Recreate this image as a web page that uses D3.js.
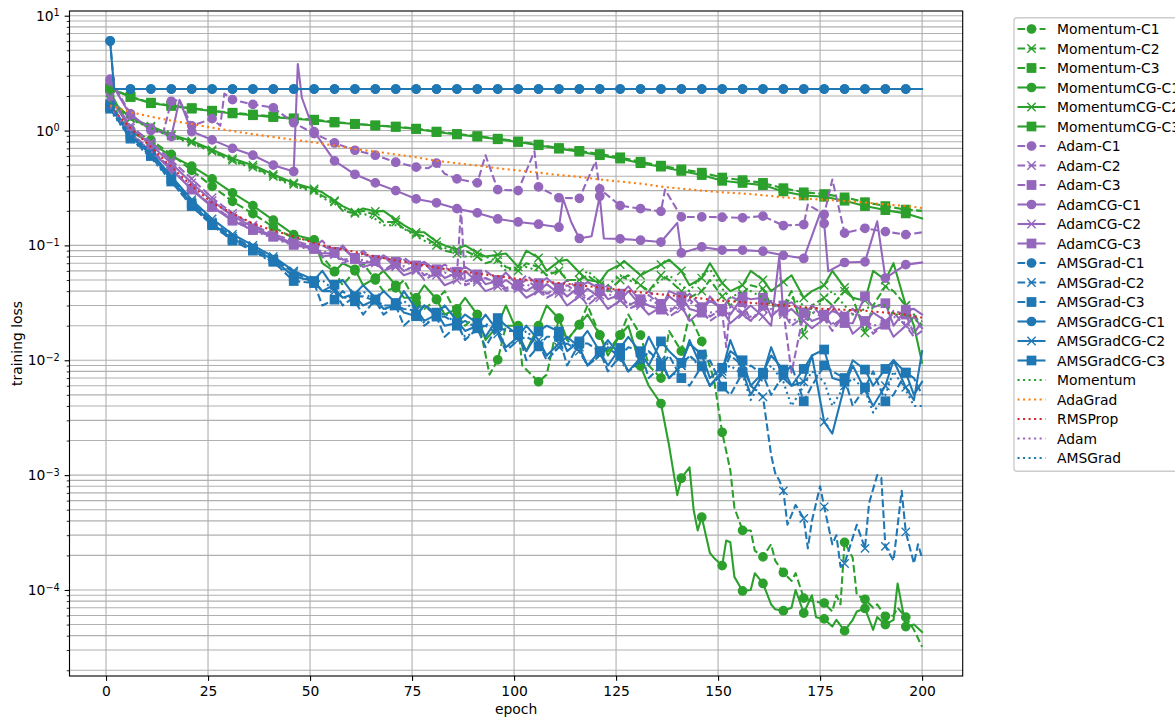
<!DOCTYPE html>
<html>
<head>
<meta charset="utf-8">
<script src="https://cdn.jsdelivr.net/npm/d3@7"></script>
<style>
  body { margin: 0; background: #fff; }
  svg { font-family: "DejaVu Sans", sans-serif; }
</style>
</head>
<body>
<svg id="chart" width="1175" height="717"></svg>
<script>
// Epochs where markers sit (every 5th epoch) plus the final epoch
const markEpochs = [1,6,11,16,21,26,31,36,41,46,51,56,61,66,71,76,81,86,91,96,101,106,111,116,121,126,131,136,141,146,151,156,161,166,171,176,181,186,191,196,200];
const xTicks = [0,25,50,75,100,125,150,175,200];
const yMajorTicks = [1e-4,1e-3,1e-2,1e-1,1,10];

// ---- Momentum family ----
const momentumC1 = [2.3,1.02,0.83,0.62,0.45,0.327,0.242,0.189,0.145,0.115,0.11,0.0594,0.06,0.05,0.0427,0.0315,0.0337,0.025,0.025,0.0101,0.02,0.0065,0.0233,0.0204,0.0166,0.0166,0.0166,0.007,0.012,0.0146,0.00236,0.00033,0.000194,0.000142,0.000085,0.000077,0.00026,0.000083,0.000059,0.000058,0.000032];
const momentumC1Extra = [[3,1.3],[53,0.08],[58,0.045],[63,0.07],[68,0.04],[73,0.05],[78,0.028],[83,0.04],[88,0.02],[94,0.0075],[98,0.02],[102,0.009],[108,0.0075],[113,0.015],[118,0.03],[123,0.012],[128,0.025],[133,0.009],[138,0.018],[143,0.025],[149,0.0068],[153,0.0011],[154,0.00052],[158,0.00033],[159,0.00022],[163,0.00025],[164,0.00018],[168,0.00012],[169,0.00014],[173,0.00008],[178,0.000065],[179,0.00009],[180,0.000075],[183,0.00019],[184,0.00009],[188,0.00007],[189,0.000075],[193,0.00006],[194,0.00007],[198,0.000045]];

const momentumC2 = [1.85,1.27,1.07,0.9,0.79,0.66,0.55,0.48,0.4,0.34,0.3,0.24,0.19,0.185,0.16,0.125,0.1,0.085,0.08,0.075,0.06,0.065,0.06,0.05,0.045,0.05,0.045,0.055,0.04,0.04,0.036,0.038,0.042,0.03,0.0166,0.035,0.04,0.0173,0.044,0.03,0.02];
const momentumC2Extra = [[53,0.27],[58,0.2],[63,0.2],[68,0.16],[73,0.14],[78,0.12],[83,0.09],[88,0.09],[93,0.07],[98,0.065],[103,0.07],[108,0.055],[113,0.05],[118,0.055],[123,0.04],[128,0.055],[133,0.04],[138,0.05],[143,0.035],[148,0.05],[153,0.03],[158,0.045],[163,0.03],[168,0.04],[173,0.03],[178,0.03],[183,0.035],[188,0.03],[193,0.04],[198,0.025]];

const momentumC3 = [2.36,1.97,1.75,1.65,1.57,1.49,1.43,1.38,1.33,1.28,1.245,1.19,1.145,1.11,1.085,1.04,0.98,0.935,0.895,0.85,0.805,0.755,0.705,0.665,0.625,0.585,0.535,0.495,0.46,0.43,0.39,0.37,0.35,0.315,0.29,0.28,0.262,0.238,0.22,0.205,0.2];

const momentumCGC1 = [2.2,0.98,0.78,0.6,0.49,0.38,0.287,0.222,0.166,0.124,0.112,0.059,0.062,0.052,0.045,0.035,0.034,0.028,0.025,0.02,0.017,0.02,0.023,0.0204,0.0166,0.0166,0.0089,0.0042,0.00094,0.00043,0.000163,0.000098,0.000114,0.000066,0.000063,0.000056,0.000044,0.000069,0.00005,0.000048,0.000043];
const momentumCGC1Extra = [[53,0.07],[58,0.07],[63,0.045],[68,0.06],[73,0.035],[78,0.045],[83,0.025],[88,0.035],[93,0.015],[98,0.03],[103,0.012],[108,0.03],[113,0.015],[118,0.025],[123,0.011],[128,0.02],[133,0.006],[138,0.0018],[140,0.00067],[143,0.00117],[144,0.0005],[145,0.00033],[148,0.00021],[149,0.00019],[152,0.00027],[153,0.00026],[154,0.00013],[158,0.0001],[159,0.00014],[163,0.000075],[164,0.000068],[168,0.00007],[169,0.0001],[173,0.00009],[174,0.000058],[178,0.000048],[179,0.000055],[183,0.000055],[184,0.000065],[188,0.000045],[189,0.000058],[193,0.000055],[194,0.000114],[198,0.00005]];

const momentumCGC2 = [1.86,1.29,1.09,0.92,0.81,0.68,0.57,0.5,0.415,0.35,0.31,0.245,0.195,0.198,0.168,0.13,0.108,0.092,0.086,0.083,0.065,0.078,0.073,0.058,0.048,0.068,0.055,0.068,0.06,0.052,0.047,0.045,0.05,0.048,0.035,0.045,0.043,0.033,0.05,0.03,0.0095];
const momentumCGC2Extra = [[53,0.29],[58,0.22],[63,0.21],[68,0.2],[73,0.15],[78,0.13],[83,0.1],[88,0.1],[93,0.08],[98,0.085],[103,0.09],[108,0.06],[113,0.075],[118,0.05],[123,0.06],[127,0.073],[133,0.06],[138,0.075],[143,0.045],[148,0.07],[153,0.04],[158,0.06],[163,0.04],[168,0.055],[173,0.04],[178,0.06],[183,0.035],[188,0.06],[193,0.07],[198,0.02]];

const momentumCGC3 = [2.34,1.96,1.73,1.64,1.55,1.48,1.41,1.36,1.31,1.265,1.23,1.175,1.14,1.105,1.075,1.03,0.97,0.925,0.885,0.84,0.795,0.745,0.695,0.655,0.61,0.57,0.52,0.485,0.445,0.41,0.365,0.35,0.335,0.295,0.272,0.265,0.245,0.22,0.203,0.19,0.172];

// ---- Adam family ----
const adamC1 = [2.8,1.4,1.0,1.8,1.1,1.27,1.86,1.69,1.58,1.17,0.94,0.78,0.674,0.61,0.53,0.48,0.52,0.38,0.35,0.306,0.3,0.323,0.26,0.257,0.31,0.222,0.209,0.198,0.177,0.177,0.176,0.174,0.18,0.149,0.152,0.186,0.128,0.141,0.132,0.124,0.13];
const adamC1Extra = [[14,0.95],[18,1.85],[28,1.1],[29,2.1],[79,0.47],[83,0.42],[93,0.61],[105,0.66],[120,0.54],[137,0.306],[172,0.227],[178,0.375]];

const adamC2 = [1.99,1.1,0.79,0.55,0.38,0.26,0.19,0.15,0.125,0.11,0.098,0.085,0.078,0.072,0.066,0.062,0.058,0.055,0.05,0.047,0.045,0.042,0.04,0.038,0.037,0.034,0.031,0.03,0.028,0.027,0.026,0.025,0.028,0.026,0.024,0.023,0.025,0.022,0.021,0.02,0.018];
const adamC2Extra = [[53,0.11],[58,0.07],[63,0.09],[68,0.06],[73,0.075],[78,0.05],[83,0.065],[87,0.21],[88,0.045],[93,0.052],[98,0.04],[103,0.05],[108,0.035],[113,0.045],[118,0.03],[123,0.042],[128,0.028],[133,0.037],[138,0.024],[143,0.034],[148,0.022],[152,0.013],[153,0.03],[158,0.022],[163,0.032],[168,0.02],[173,0.03],[178,0.018],[183,0.028],[188,0.017],[193,0.026],[198,0.016]];

const adamC3 = [1.7,0.95,0.68,0.47,0.31,0.22,0.17,0.14,0.12,0.104,0.095,0.088,0.078,0.075,0.072,0.066,0.062,0.059,0.054,0.05,0.046,0.045,0.043,0.041,0.04,0.038,0.034,0.031,0.033,0.029,0.028,0.032,0.03,0.027,0.026,0.025,0.024,0.022,0.0204,0.025,0.022];
const adamC3Extra = [[53,0.1],[58,0.075],[63,0.085],[68,0.06],[73,0.078],[78,0.055],[83,0.068],[88,0.048],[93,0.06],[98,0.042],[103,0.055],[108,0.038],[113,0.05],[118,0.034],[123,0.045],[128,0.03],[133,0.04],[138,0.026],[143,0.038],[148,0.024],[153,0.036],[158,0.022],[163,0.033],[168,0.0078],[173,0.03],[178,0.02],[183,0.028],[188,0.018],[193,0.027],[198,0.017]];

const adamCGC1 = [2.7,1.35,1.05,0.886,0.98,0.83,0.7,0.61,0.5,0.44,0.98,0.545,0.416,0.35,0.3,0.254,0.235,0.209,0.192,0.17,0.16,0.153,0.144,0.115,0.268,0.114,0.111,0.107,0.086,0.097,0.091,0.091,0.089,0.082,0.077,0.155,0.071,0.072,0.052,0.068,0.071];
const adamCGC1Extra = [[18,1.85],[47,3.8],[48,1.93],[112,0.256],[114,0.16],[119,0.12],[122,0.115],[140,0.157],[175,0.19],[177,0.0595],[189,0.162]];

const adamCGC2 = [1.9,1.05,0.75,0.52,0.35,0.245,0.18,0.145,0.12,0.105,0.095,0.083,0.075,0.07,0.065,0.06,0.055,0.05,0.048,0.044,0.042,0.04,0.038,0.036,0.035,0.033,0.03,0.029,0.03,0.027,0.028,0.026,0.024,0.025,0.022,0.023,0.024,0.021,0.022,0.02,0.019];
const adamCGC2Extra = [[53,0.08],[58,0.1],[63,0.065],[68,0.08],[73,0.055],[78,0.07],[83,0.045],[88,0.06],[93,0.04],[98,0.05],[103,0.035],[108,0.046],[113,0.03],[118,0.042],[123,0.028],[128,0.04],[133,0.025],[138,0.036],[143,0.022],[148,0.033],[153,0.021],[158,0.03],[163,0.02],[165,0.08],[168,0.028],[173,0.019],[178,0.027],[183,0.017],[188,0.026],[193,0.016],[198,0.024]];

const adamCGC3 = [1.65,0.92,0.66,0.457,0.306,0.216,0.164,0.136,0.119,0.101,0.093,0.086,0.076,0.073,0.07,0.067,0.0605,0.058,0.056,0.049,0.0445,0.047,0.042,0.0436,0.042,0.0372,0.0326,0.0276,0.036,0.026,0.0267,0.0357,0.035,0.03,0.026,0.0242,0.0211,0.036,0.0314,0.0276,0.025];
const adamCGC3Extra = [[53,0.085],[58,0.095],[63,0.07],[68,0.082],[73,0.06],[78,0.072],[83,0.052],[88,0.065],[93,0.046],[98,0.058],[103,0.04],[108,0.052],[113,0.036],[118,0.048],[123,0.034],[128,0.044],[133,0.03],[138,0.04],[143,0.028],[148,0.036],[153,0.025],[158,0.034],[163,0.024],[168,0.032],[173,0.022],[178,0.03],[183,0.021],[188,0.029],[193,0.02],[198,0.028]];

// ---- AMSGrad family ----
const amsgradC1 = [6.05,2.3,2.3,2.3,2.3,2.3,2.3,2.3,2.3,2.3,2.3,2.3,2.3,2.3,2.3,2.3,2.3,2.3,2.3,2.3,2.3,2.3,2.3,2.3,2.3,2.3,2.3,2.3,2.3,2.3,2.3,2.3,2.3,2.3,2.3,2.3,2.3,2.3,2.3,2.3,2.3];
const amsgradC1Extra = [[2,2.3]];

const amsgradC2 = [1.65,0.9,0.63,0.39,0.24,0.16,0.12,0.095,0.077,0.058,0.048,0.04,0.036,0.033,0.03,0.027,0.024,0.021,0.019,0.017,0.015,0.014,0.013,0.012,0.011,0.0105,0.01,0.0095,0.009,0.0088,0.0075,0.009,0.0048,0.00073,0.00042,0.00053,0.00017,0.00023,0.00024,0.00032,0.00019];
const amsgradC2Extra = [[53,0.04],[58,0.03],[63,0.036],[68,0.025],[73,0.028],[78,0.02],[83,0.024],[88,0.015],[93,0.02],[98,0.012],[103,0.016],[108,0.01],[113,0.014],[118,0.009],[123,0.013],[128,0.008],[133,0.012],[138,0.007],[143,0.011],[148,0.006],[153,0.011],[158,0.006],[163,0.0015],[164,0.00104],[165,0.0009],[167,0.00037],[169,0.00055],[172,0.00023],[173,0.0004],[175,0.0008],[178,0.00025],[179,0.0003],[180,0.00016],[184,0.00037],[187,0.00057],[189,0.001],[190,0.00095],[193,0.00018],[195,0.00073],[198,0.00017],[199,0.00025]];

const amsgradC3 = [1.55,0.85,0.6,0.36,0.22,0.15,0.11,0.09,0.072,0.049,0.047,0.0337,0.0326,0.0337,0.03,0.025,0.024,0.02,0.019,0.02,0.018,0.0132,0.016,0.014,0.012,0.011,0.012,0.0089,0.007,0.0089,0.0059,0.0078,0.0075,0.0075,0.0044,0.009,0.007,0.0058,0.0044,0.0078,0.005];
const amsgradC3Extra = [[53,0.03],[58,0.04],[63,0.025],[68,0.03],[73,0.02],[78,0.03],[83,0.016],[88,0.022],[93,0.013],[98,0.018],[103,0.01],[108,0.016],[113,0.009],[118,0.014],[123,0.008],[128,0.013],[133,0.007],[138,0.011],[143,0.006],[148,0.01],[153,0.005],[158,0.009],[163,0.005],[168,0.009],[173,0.006],[178,0.008],[183,0.004],[188,0.008],[193,0.005],[198,0.007]];

const amsgradCGC1 = [6.0,2.3,2.3,2.3,2.3,2.3,2.3,2.3,2.3,2.3,2.3,2.3,2.3,2.3,2.3,2.3,2.3,2.3,2.3,2.3,2.3,2.3,2.3,2.3,2.3,2.3,2.3,2.3,2.3,2.3,2.3,2.3,2.3,2.3,2.3,2.3,2.3,2.3,2.3,2.3,2.3];
const amsgradCGC1Extra = [[2,2.3]];

const amsgradCGC2 = [1.7,0.92,0.65,0.4,0.25,0.17,0.125,0.1,0.08,0.06,0.05,0.042,0.038,0.035,0.03,0.028,0.025,0.022,0.02,0.018,0.016,0.015,0.014,0.013,0.012,0.011,0.0105,0.01,0.009,0.0085,0.008,0.008,0.0075,0.007,0.0065,0.0029,0.006,0.0055,0.006,0.0058,0.012];
const amsgradCGC2Extra = [[53,0.06],[58,0.035],[63,0.045],[68,0.028],[73,0.04],[78,0.022],[83,0.03],[88,0.018],[93,0.025],[98,0.013],[103,0.02],[108,0.011],[113,0.016],[118,0.009],[123,0.015],[128,0.008],[133,0.016],[138,0.007],[143,0.015],[148,0.006],[153,0.015],[158,0.005],[163,0.013],[168,0.006],[173,0.011],[178,0.0023],[183,0.009],[188,0.004],[193,0.01],[198,0.0045]];

const amsgradCGC3 = [1.6,0.89,0.618,0.375,0.231,0.155,0.114,0.094,0.075,0.0537,0.049,0.0455,0.036,0.0337,0.0315,0.0242,0.026,0.0211,0.0211,0.0233,0.0166,0.0178,0.0178,0.0146,0.0119,0.0128,0.0117,0.0146,0.0095,0.0112,0.0086,0.01,0.0078,0.0083,0.0084,0.0124,0.0065,0.0083,0.0084,0.0078,0.0065];
const amsgradCGC3Extra = [[53,0.04],[58,0.05],[63,0.03],[68,0.04],[73,0.026],[78,0.03],[83,0.02],[88,0.025],[93,0.016],[98,0.02],[103,0.012],[108,0.02],[113,0.012],[118,0.018],[123,0.009],[128,0.016],[133,0.009],[138,0.012],[143,0.014],[148,0.007],[153,0.012],[158,0.006],[163,0.011],[168,0.006],[173,0.011],[178,0.007],[183,0.01],[188,0.006],[193,0.01],[198,0.005]];

// ---- Baseline optimizers ----
const momentumBase = [1.8,1.25,1.05,0.88,0.77,0.65,0.54,0.47,0.39,0.33,0.29,0.23,0.185,0.17,0.15,0.12,0.1,0.088,0.08,0.072,0.065,0.06,0.062,0.05,0.048,0.055,0.045,0.05,0.045,0.055,0.042,0.04,0.035,0.03,0.03,0.035,0.03,0.028,0.03,0.025,0.022];
const momentumBaseExtra = [[53,0.26],[58,0.21],[63,0.19],[68,0.15],[73,0.14],[78,0.11],[83,0.095],[88,0.08],[93,0.08],[98,0.06],[103,0.065],[108,0.055],[113,0.05],[118,0.06],[123,0.045],[128,0.05],[133,0.04],[138,0.055],[143,0.04],[148,0.062],[153,0.035],[158,0.04],[163,0.03],[168,0.035],[173,0.025],[178,0.04],[183,0.025],[188,0.03],[193,0.025],[198,0.022]];

const adagradBase = [1.65,1.45,1.32,1.22,1.14,1.06,0.99,0.93,0.88,0.83,0.79,0.74,0.69,0.655,0.62,0.585,0.545,0.52,0.495,0.47,0.45,0.43,0.41,0.395,0.375,0.36,0.345,0.325,0.312,0.3,0.29,0.283,0.274,0.262,0.255,0.25,0.244,0.236,0.228,0.22,0.212];

const rmspropBase = [1.6,1.05,0.72,0.48,0.33,0.235,0.19,0.155,0.135,0.12,0.105,0.095,0.088,0.08,0.074,0.069,0.064,0.06,0.057,0.054,0.051,0.049,0.047,0.045,0.043,0.041,0.039,0.0375,0.036,0.0345,0.033,0.032,0.031,0.03,0.029,0.028,0.0275,0.027,0.026,0.025,0.0235];

const adamBase = [1.6,0.95,0.66,0.46,0.31,0.22,0.165,0.135,0.115,0.1,0.09,0.08,0.073,0.068,0.063,0.058,0.055,0.052,0.049,0.046,0.043,0.041,0.039,0.037,0.035,0.033,0.031,0.03,0.029,0.028,0.027,0.026,0.025,0.024,0.024,0.023,0.022,0.022,0.021,0.021,0.02];
const adamBaseExtra = [[53,0.09],[58,0.075],[63,0.075],[68,0.062],[73,0.066],[78,0.055],[83,0.058],[88,0.049],[93,0.052],[98,0.043],[103,0.046],[108,0.038],[113,0.042],[118,0.034],[123,0.038],[128,0.031],[133,0.034],[138,0.028],[143,0.032],[148,0.026],[153,0.03],[158,0.024],[163,0.028],[168,0.022],[173,0.027],[178,0.021],[183,0.026],[188,0.02],[193,0.024],[198,0.019]];

const amsgradBase = [1.5,0.85,0.58,0.36,0.22,0.15,0.11,0.09,0.07,0.055,0.047,0.04,0.035,0.032,0.029,0.026,0.023,0.02,0.018,0.017,0.015,0.014,0.013,0.012,0.011,0.01,0.0095,0.009,0.0085,0.0085,0.008,0.0075,0.007,0.0065,0.006,0.0065,0.006,0.0055,0.005,0.0055,0.004];
const amsgradBaseExtra = [[53,0.05],[58,0.035],[63,0.04],[68,0.028],[73,0.033],[78,0.021],[83,0.026],[88,0.016],[93,0.021],[98,0.013],[103,0.018],[108,0.011],[113,0.015],[118,0.009],[123,0.014],[128,0.008],[133,0.012],[138,0.007],[143,0.011],[148,0.006],[153,0.009],[158,0.0045],[163,0.009],[168,0.004],[173,0.008],[178,0.004],[183,0.007],[188,0.0035],[193,0.008],[198,0.004]];

// ---- Styling ----
const GREEN = "#2ca02c", PURPLE = "#9467bd", BLUE = "#1f77b4", ORANGE = "#ff7f0e", RED = "#d62728";
const PT = 1.389;                // px per point
const LW = 1.5 * PT;             // line width
const DASH = [3.7 * 1.5 * PT, 1.6 * 1.5 * PT];
const DOT = [1 * 1.5 * PT, 1.65 * 1.5 * PT];
const MS = 6 * PT;               // marker size

const series = [
  { name: "Momentum-C1",   color: GREEN,  style: "dashed", marker: "circle", values: momentumC1,   extra: momentumC1Extra },
  { name: "Momentum-C2",   color: GREEN,  style: "dashed", marker: "x",      values: momentumC2,   extra: momentumC2Extra },
  { name: "Momentum-C3",   color: GREEN,  style: "dashed", marker: "square", values: momentumC3 },
  { name: "MomentumCG-C1", color: GREEN,  style: "solid",  marker: "circle", values: momentumCGC1, extra: momentumCGC1Extra },
  { name: "MomentumCG-C2", color: GREEN,  style: "solid",  marker: "x",      values: momentumCGC2, extra: momentumCGC2Extra },
  { name: "MomentumCG-C3", color: GREEN,  style: "solid",  marker: "square", values: momentumCGC3 },
  { name: "Adam-C1",       color: PURPLE, style: "dashed", marker: "circle", values: adamC1,       extra: adamC1Extra },
  { name: "Adam-C2",       color: PURPLE, style: "dashed", marker: "x",      values: adamC2,       extra: adamC2Extra },
  { name: "Adam-C3",       color: PURPLE, style: "dashed", marker: "square", values: adamC3,       extra: adamC3Extra },
  { name: "AdamCG-C1",     color: PURPLE, style: "solid",  marker: "circle", values: adamCGC1,     extra: adamCGC1Extra },
  { name: "AdamCG-C2",     color: PURPLE, style: "solid",  marker: "x",      values: adamCGC2,     extra: adamCGC2Extra },
  { name: "AdamCG-C3",     color: PURPLE, style: "solid",  marker: "square", values: adamCGC3,     extra: adamCGC3Extra },
  { name: "AMSGrad-C1",    color: BLUE,   style: "dashed", marker: "circle", values: amsgradC1,    extra: amsgradC1Extra },
  { name: "AMSGrad-C2",    color: BLUE,   style: "dashed", marker: "x",      values: amsgradC2,    extra: amsgradC2Extra },
  { name: "AMSGrad-C3",    color: BLUE,   style: "dashed", marker: "square", values: amsgradC3,    extra: amsgradC3Extra },
  { name: "AMSGradCG-C1",  color: BLUE,   style: "solid",  marker: "circle", values: amsgradCGC1,  extra: amsgradCGC1Extra },
  { name: "AMSGradCG-C2",  color: BLUE,   style: "solid",  marker: "x",      values: amsgradCGC2,  extra: amsgradCGC2Extra },
  { name: "AMSGradCG-C3",  color: BLUE,   style: "solid",  marker: "square", values: amsgradCGC3,  extra: amsgradCGC3Extra },
  { name: "Momentum",      color: GREEN,  style: "dotted", marker: null,     values: momentumBase, extra: momentumBaseExtra },
  { name: "AdaGrad",       color: ORANGE, style: "dotted", marker: null,     values: adagradBase },
  { name: "RMSProp",       color: RED,    style: "dotted", marker: null,     values: rmspropBase },
  { name: "Adam",          color: PURPLE, style: "dotted", marker: null,     values: adamBase,     extra: adamBaseExtra },
  { name: "AMSGrad",       color: BLUE,   style: "dotted", marker: null,     values: amsgradBase,  extra: amsgradBaseExtra }
];

// ---- Layout ----
const svg = d3.select("#chart");
const plot = { left: 69.5, right: 962.7, top: 11, bottom: 676 };

const x = d3.scaleLinear().domain([-8.95, 209.95]).range([plot.left, plot.right]);
const y = d3.scaleLog().domain([Math.pow(10, -4.749), Math.pow(10, 1.041)]).range([plot.bottom, plot.top]);

// minor ticks for the log axis
const yMinorTicks = [];
for (let p = -5; p <= 1; p++) {
  for (let m = 2; m <= 9; m++) {
    const v = m * Math.pow(10, p);
    if (v >= y.domain()[0] && v <= y.domain()[1]) yMinorTicks.push(v);
  }
}

svg.append("defs").append("clipPath").attr("id", "plotClip")
  .append("rect").attr("x", plot.left).attr("y", plot.top)
  .attr("width", plot.right - plot.left).attr("height", plot.bottom - plot.top);

// grid
const grid = svg.append("g").attr("class", "grid");
const gridColor = "#b0b0b0", gridW = 0.8 * PT;
grid.selectAll("line.gy").data(yMinorTicks.concat(yMajorTicks.filter(v => v >= y.domain()[0] && v <= y.domain()[1])))
  .join("line").attr("class", "gy")
  .attr("x1", plot.left).attr("x2", plot.right)
  .attr("y1", d => y(d)).attr("y2", d => y(d))
  .attr("stroke", gridColor).attr("stroke-width", gridW);
grid.selectAll("line.gx").data(xTicks).join("line").attr("class", "gx")
  .attr("x1", d => x(d)).attr("x2", d => x(d))
  .attr("y1", plot.top).attr("y2", plot.bottom)
  .attr("stroke", gridColor).attr("stroke-width", gridW);

// series
function buildPoints(s) {
  const pts = markEpochs.map((e, i) => ({ e: e, v: s.values[i], mark: i < markEpochs.length - 1 }));
  (s.extra || []).forEach(p => pts.push({ e: p[0], v: p[1], mark: false }));
  pts.sort((a, b) => a.e - b.e);
  return pts;
}

function dashFor(style) {
  if (style === "dashed") return DASH.join(",");
  if (style === "dotted") return DOT.join(",");
  return null;
}

function drawMarker(g, type, cx, cy, color) {
  const h = MS / 2;
  if (type === "circle") {
    g.append("circle").attr("cx", cx).attr("cy", cy).attr("r", h)
      .attr("fill", color).attr("stroke", color).attr("stroke-width", PT);
  } else if (type === "square") {
    g.append("rect").attr("x", cx - h).attr("y", cy - h).attr("width", MS).attr("height", MS)
      .attr("fill", color).attr("stroke", color).attr("stroke-width", PT);
  } else if (type === "x") {
    g.append("path").attr("d", `M${cx - h},${cy - h}L${cx + h},${cy + h}M${cx - h},${cy + h}L${cx + h},${cy - h}`)
      .attr("fill", "none").attr("stroke", color).attr("stroke-width", PT);
  }
}

const lineGen = d3.line().x(d => x(d.e)).y(d => y(d.v));
const plotG = svg.append("g").attr("clip-path", "url(#plotClip)");

series.forEach(s => {
  const pts = buildPoints(s);
  const g = plotG.append("g").attr("class", "series");
  g.append("path").datum(pts).attr("d", lineGen)
    .attr("fill", "none").attr("stroke", s.color).attr("stroke-width", LW)
    .attr("stroke-dasharray", dashFor(s.style))
    .attr("stroke-linejoin", "round").attr("stroke-linecap", s.style === "solid" ? "square" : "butt");
  if (s.marker) {
    pts.filter(p => p.mark).forEach(p => drawMarker(g, s.marker, x(p.e), y(p.v), s.color));
  }
});

// axes
const axisColor = "#000", tickFont = 10 * PT;
const xAxis = svg.append("g").attr("transform", `translate(0,${plot.bottom})`)
  .call(d3.axisBottom(x).tickValues(xTicks).tickSize(3.5 * PT).tickPadding(3.5 * PT).tickFormat(d3.format("d")));
xAxis.select(".domain").remove();
xAxis.selectAll("line").attr("stroke", axisColor).attr("stroke-width", 0.8 * PT);
xAxis.selectAll("text").attr("font-size", tickFont).attr("font-family", "DejaVu Sans").attr("fill", "#000");

const yAxis = svg.append("g").attr("transform", `translate(${plot.left},0)`)
  .call(d3.axisLeft(y).tickValues(yMajorTicks.filter(v => v <= y.domain()[1])).tickSize(3.5 * PT).tickFormat(""));
yAxis.select(".domain").remove();
yAxis.selectAll("line").attr("stroke", axisColor).attr("stroke-width", 0.8 * PT);
yAxis.selectAll(".tick").each(function (d) {
  const t = d3.select(this).append("text")
    .attr("x", -3.5 * PT - 3.5 * PT).attr("dy", "0.32em")
    .attr("text-anchor", "end").attr("font-size", tickFont).attr("fill", "#000")
    .attr("font-family", "DejaVu Sans");
  t.append("tspan").text("10");
  t.append("tspan").attr("dy", "-0.45em").attr("font-size", tickFont * 0.7)
    .text(String(Math.round(Math.log10(d))).replace("-", "\u2212"));
});

const yMinor = svg.append("g").attr("transform", `translate(${plot.left},0)`)
  .call(d3.axisLeft(y).tickValues(yMinorTicks).tickSize(2 * PT).tickFormat(""));
yMinor.select(".domain").remove();
yMinor.selectAll("line").attr("stroke", axisColor).attr("stroke-width", 0.6 * PT);

// spines
svg.append("rect").attr("x", plot.left).attr("y", plot.top)
  .attr("width", plot.right - plot.left).attr("height", plot.bottom - plot.top)
  .attr("fill", "none").attr("stroke", "#000").attr("stroke-width", 0.8 * PT);

// axis labels
svg.append("text").attr("x", (plot.left + plot.right) / 2).attr("y", 714)
  .attr("text-anchor", "middle").attr("font-size", tickFont).attr("fill", "#000").text("epoch");
svg.append("text").attr("transform", `translate(22,${(plot.top + plot.bottom) / 2}) rotate(-90)`)
  .attr("text-anchor", "middle").attr("font-size", tickFont).attr("fill", "#000").text("training loss");

// legend (placed outside the axes, to the right)
const legend = svg.append("g").attr("class", "legend");
const lgX = 1014, lgY = 17.7, rowH = 19.5, firstRow = 29;
legend.append("rect").attr("x", lgX).attr("y", lgY).attr("width", 200).attr("height", 453.5)
  .attr("rx", 3).attr("fill", "#fff").attr("fill-opacity", 0.8)
  .attr("stroke", "#cccccc").attr("stroke-width", PT);
series.forEach((s, i) => {
  const cy = firstRow + i * rowH;
  const g = legend.append("g");
  g.append("line").attr("x1", 1017.5).attr("x2", 1045.5).attr("y1", cy).attr("y2", cy)
    .attr("stroke", s.color).attr("stroke-width", LW).attr("stroke-dasharray", dashFor(s.style));
  if (s.marker) drawMarker(g, s.marker, 1031.5, cy, s.color);
  g.append("text").attr("x", 1057).attr("y", cy).attr("dy", "0.36em")
    .attr("font-size", tickFont).attr("fill", "#000").text(s.name);
});
</script>
</body>
</html>
